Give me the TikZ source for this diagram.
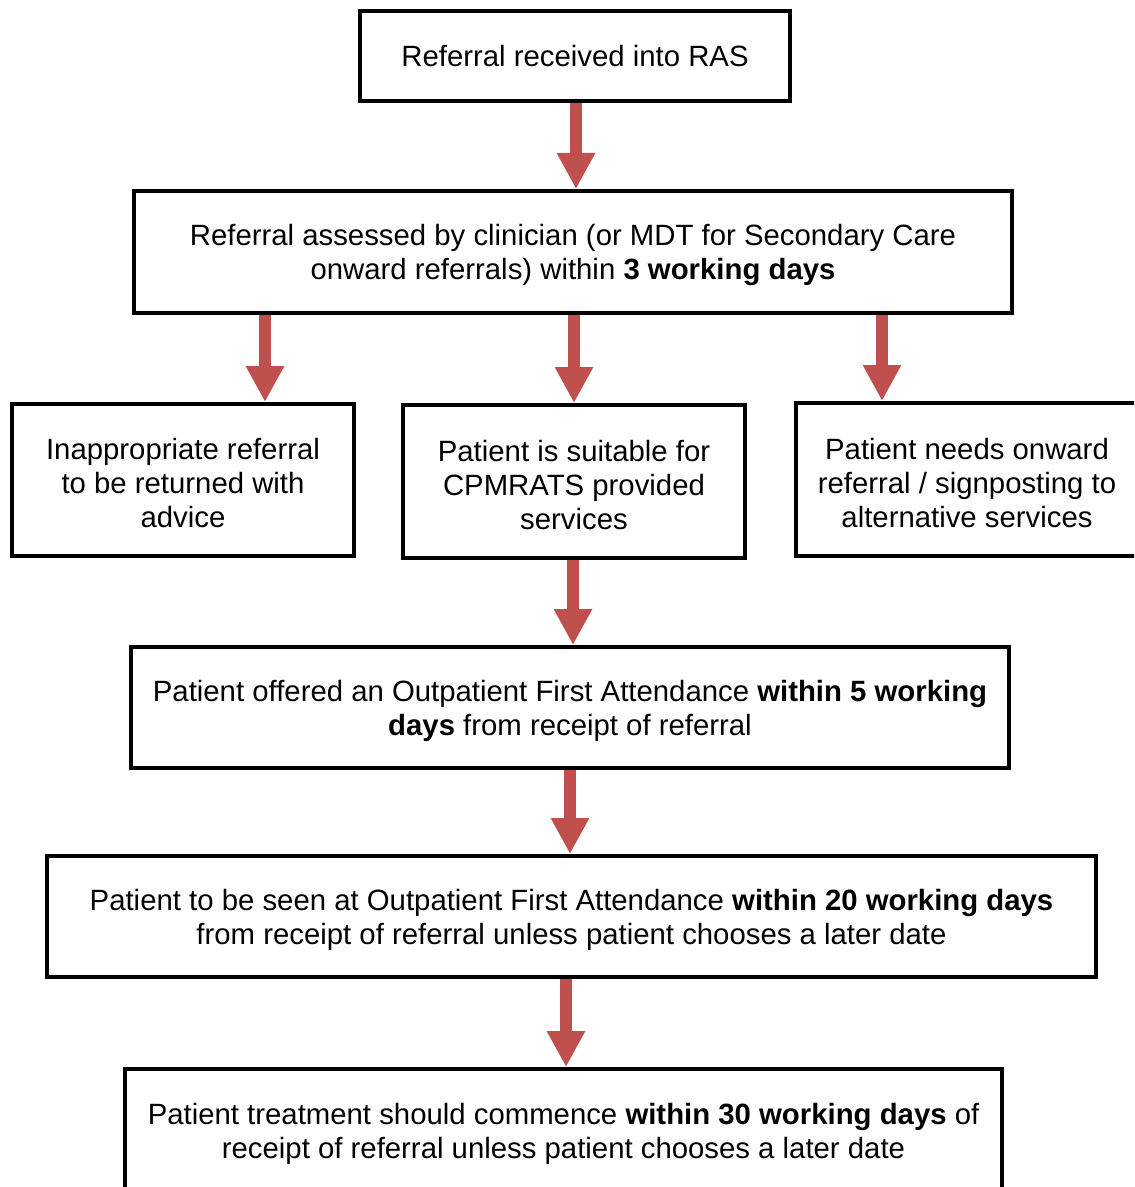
\documentclass[tikz,border=0pt]{standalone}
\usepackage{fontspec}
\setmainfont{Liberation Sans}
\usetikzlibrary{arrows.meta}
\definecolor{arrred}{HTML}{C0504D}
\newcommand{\topstrut}{\rule{0pt}{21pt}}
\tikzset{
  box/.style={draw=black, line width=3pt, inner sep=0pt, align=center, fill=white,
    font=\fontsize{22pt}{25.5pt}\selectfont},
  flow/.style={draw=arrred, line width=9pt, -{Triangle[length=27pt, width=27pt, fill=arrred]}}
}
\begin{document}
\begin{tikzpicture}[x=0.75pt,y=-0.75pt]
\path[use as bounding box, clip] (0,0) rectangle (1134,1187);
\node[box, minimum width=322.5pt, minimum height=67.5pt] (b1) at (575,56) {Referral received into RAS};
\node[box, minimum width=658.5pt, minimum height=91.5pt] (b2) at (573,252) {\topstrut Referral assessed by clinician (or MDT for Secondary Care\\onward referrals) within \textbf{3 working days}};
\node[box, minimum width=256.5pt, minimum height=114pt] (b3) at (183,480) {\topstrut Inappropriate referral\\to be returned with\\advice};
\node[box, minimum width=256.5pt, minimum height=114.75pt] (b4) at (574,481.5) {\topstrut Patient is suitable for\\CPMRATS provided\\services};
\node[box, minimum width=256.5pt, minimum height=114.75pt] (b5) at (967,479.5) {\topstrut Patient needs onward\\referral / signposting to\\alternative services};
\node[box, minimum width=658.5pt, minimum height=90.75pt] (b6) at (570,707.5) {\topstrut Patient offered an Outpatient First Attendance \textbf{within 5 working}\\\textbf{days} from receipt of referral};
\node[box, minimum width=786.75pt, minimum height=90.75pt] (b7) at (571.5,916.5) {\topstrut Patient to be seen at Outpatient First Attendance \textbf{within 20 working days}\\from receipt of referral unless patient chooses a later date};
\node[box, minimum width=657.75pt, minimum height=93pt] (b8) at (563.5,1131) {\topstrut Patient treatment should commence \textbf{within 30 working days} of\\receipt of referral unless patient chooses a later date};
\draw[flow] (b1.south -| 576,0) -- (b2.north -| 576,0);
\draw[flow] (b2.south -| 265,0) -- (b3.north -| 265,0);
\draw[flow] (b2.south -| 574,0) -- (b4.north -| 574,0);
\draw[flow] (b2.south -| 882,0) -- (b5.north -| 882,0);
\draw[flow] (b4.south -| 573,0) -- (b6.north -| 573,0);
\draw[flow] (b6.south -| 570,0) -- (b7.north -| 570,0);
\draw[flow] (b7.south -| 566,0) -- (b8.north -| 566,0);
\end{tikzpicture}
\end{document}
